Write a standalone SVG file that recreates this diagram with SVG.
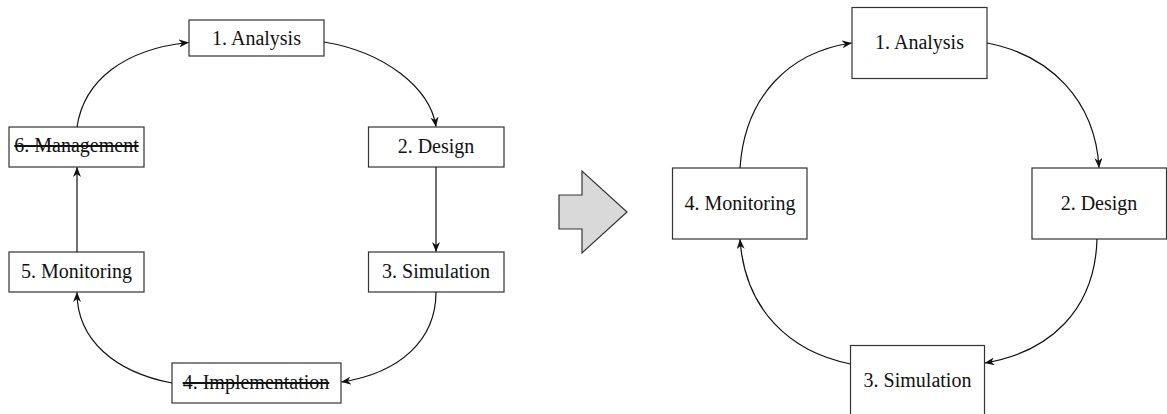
<svg xmlns="http://www.w3.org/2000/svg" width="1167" height="414" viewBox="0 0 1167 414">
  <defs>
    <style>
      .box { fill: #ffffff; stroke: #333333; stroke-width: 1.2; }
      .lbl { font-family: "Liberation Serif", "Times New Roman", serif; font-size: 20px; fill: #111111; text-anchor: middle; }
      .struck { text-decoration: line-through; }
      .edge { fill: none; stroke: #111111; stroke-width: 1.2; marker-end: url(#arrow); }
      .bigarrow { fill: #d9d9d9; stroke: #333333; stroke-width: 1.2; }
    </style>
    <marker id="arrow" viewBox="0 0 10 8" refX="9.5" refY="4" markerWidth="10" markerHeight="8" markerUnits="userSpaceOnUse" orient="auto">
      <path d="M0,0 L10,4 L0,8 L3,4 Z" fill="#111111"/>
    </marker>
  </defs>
  <rect width="1167" height="414" fill="#ffffff"/>

  <!-- Old six-step cycle -->
  <g id="old-analysis">
    <rect class="box" x="189" y="20" width="135" height="36"/>
    <text class="lbl" x="256.5" y="45">1. Analysis</text>
  </g>
  <g id="old-design">
    <rect class="box" x="368.5" y="127" width="135.5" height="40"/>
    <text class="lbl" x="436" y="153">2. Design</text>
  </g>
  <g id="old-simulation">
    <rect class="box" x="368.5" y="252" width="135.5" height="40"/>
    <text class="lbl" x="436" y="278">3. Simulation</text>
  </g>
  <g id="old-implementation">
    <rect class="box" x="172" y="363" width="169" height="40"/>
    <text class="lbl struck" x="256" y="389">4. Implementation</text>
  </g>
  <g id="old-monitoring">
    <rect class="box" x="9" y="252" width="135" height="40"/>
    <text class="lbl" x="76.5" y="278">5. Monitoring</text>
  </g>
  <g id="old-management">
    <rect class="box" x="9" y="127" width="135" height="40"/>
    <text class="lbl struck" x="76.5" y="152">6. Management</text>
  </g>

  <!-- Transition arrow -->
  <g id="transition">
    <polygon class="bigarrow" points="559,195 582,195 582,171 627,212 582,253 582,229 559,229"/>
  </g>

  <!-- New four-step cycle -->
  <g id="new-analysis">
    <rect class="box" x="852" y="7.5" width="135" height="71"/>
    <text class="lbl" x="919.5" y="49">1. Analysis</text>
  </g>
  <g id="new-design">
    <rect class="box" x="1032" y="168" width="134.5" height="71"/>
    <text class="lbl" x="1099" y="210">2. Design</text>
  </g>
  <g id="new-simulation">
    <rect class="box" x="850.5" y="345.5" width="134" height="71"/>
    <text class="lbl" x="917.5" y="387">3. Simulation</text>
  </g>
  <g id="new-monitoring">
    <rect class="box" x="672.5" y="168" width="134.5" height="71"/>
    <text class="lbl" x="740" y="210">4. Monitoring</text>
  </g>

  <!-- Connectors -->
  <g id="connectors">
    <path class="edge" d="M77,127 C84,80 125,49 188.5,42.5"/>
    <path class="edge" d="M324,42 C385,52 430,88 436,126.5"/>
    <path class="edge" d="M436,167 L436,251.5"/>
    <path class="edge" d="M436,292 C436,340 400,373 341.5,382"/>
    <path class="edge" d="M172,383 C115,372 77,340 77,292.5"/>
    <path class="edge" d="M77,252 L77,167.5"/>

    <path class="edge" d="M740,168 C745,95 790,52 851.5,43"/>
    <path class="edge" d="M987,43 C1050,55 1095,100 1099,167.5"/>
    <path class="edge" d="M1097,239 C1095,310 1050,352 985,363"/>
    <path class="edge" d="M850.5,364 C790,352 745,310 740,239.5"/>
  </g>
</svg>
